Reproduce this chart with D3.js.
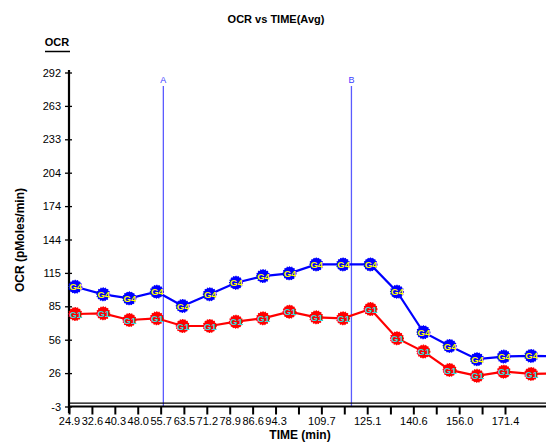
<!DOCTYPE html>
<html><head><meta charset="utf-8">
<script src="https://cdn.jsdelivr.net/npm/d3@7"></script>
<style>
html,body{margin:0;padding:0;background:#fff;}
svg{display:block;font-family:Arial,"Liberation Sans",sans-serif;}
</style></head>
<body>
<svg id="chart" width="546" height="442"></svg>
<script>
// ---- data ----
const times = [27.0, 36.4, 45.2, 54.4, 63.1, 72.2, 81.0, 90.1, 99.0, 108.0, 117.0, 126.2, 135.1, 144.0, 152.8, 162.0, 171.0, 180.2, 189.2];
const seriesG4 = [102.8, 96.1, 92.5, 98.4, 85.8, 96.1, 106.3, 112.2, 114.6, 122.5, 122.5, 122.5, 98.4, 62.6, 50.5, 38.8, 41.1, 41.7, 41.3];
const seriesG1 = [78.7, 79.3, 73.4, 74.9, 68.1, 68.1, 71.9, 74.9, 80.7, 75.8, 74.9, 83.1, 57.3, 45.5, 29.3, 24.1, 27.8, 25.8, 26.2];
const seriesNames = ["G4", "G1"];
const injections = [{label: "A", time: 56.6}, {label: "B", time: 119.8}];
const xTickValues = [24.9, 32.6, 40.3, 48.0, 55.7, 63.5, 71.2, 78.9, 86.6, 94.3, 102.0, 109.7, 117.4, 125.1, 132.9, 140.6, 148.3, 156.0, 163.7, 171.4];
const xTickLabels = ["24.9","32.6","40.3","48.0","55.7","63.5","71.2","78.9","86.6","94.3","","109.7","","125.1","","140.6","","156.0","","171.4"];
const yTickValues = [-3, 26.5, 56, 85.5, 115, 144.5, 174, 203.5, 233, 262.5, 292];
const yTickLabels = ["-3","26","56","85","115","144","174","204","233","263","292"];

// ---- layout ----
const svg = d3.select("#chart");
const W = 546, H = 442;
const x = d3.scaleLinear().domain([24.9, 171.4]).range([69, 505]);
const y = d3.scaleLinear().domain([-3, 292]).range([406.5, 72.5]);

const styles = {
  G4: {line: "#0000ff", fill: "#0000ff", text: "#ffff00"},
  G1: {line: "#ff0000", fill: "#ff0000", text: "#33dddd"}
};

// title
svg.append("text").attr("x", 276).attr("y", 23).attr("text-anchor", "middle")
  .attr("font-size", 11).attr("font-weight", "bold").text("OCR vs TIME(Avg)");
// top-left label
svg.append("text").attr("x", 57).attr("y", 46).attr("text-anchor", "middle")
  .attr("font-size", 11).attr("font-weight", "bold").text("OCR");
svg.append("line").attr("x1", 45).attr("x2", 70).attr("y1", 51.5).attr("y2", 51.5)
  .attr("stroke", "#000").attr("stroke-width", 1.5);

// y axis label
svg.append("text").attr("transform", "translate(24,240) rotate(-90)")
  .attr("text-anchor", "middle").attr("font-size", 12).attr("font-weight", "bold")
  .text("OCR (pMoles/min)");
// x axis label
svg.append("text").attr("x", 300).attr("y", 438.5).attr("text-anchor", "middle")
  .attr("font-size", 12).attr("font-weight", "bold").text("TIME (min)");

// injection lines
const inj = svg.append("g");
injections.forEach(d => {
  inj.append("line").attr("x1", x(d.time)).attr("x2", x(d.time))
    .attr("y1", 86).attr("y2", y(-3)).attr("stroke", "#5a5aff").attr("stroke-width", 1.3);
  inj.append("text").attr("x", x(d.time)).attr("y", 83).attr("text-anchor", "middle")
    .attr("font-size", 9).attr("fill", "#3a3aff").text(d.label);
});

// y axis
const yAxis = d3.axisLeft(y).tickValues(yTickValues).tickSizeOuter(0).tickSizeInner(4)
  .tickPadding(4).tickFormat((d, i) => yTickLabels[i]);
const gy = svg.append("g").attr("transform", "translate(69,0)").call(yAxis);
gy.select(".domain").remove();
gy.selectAll(".tick line").attr("x1", -4).attr("x2", 3).attr("stroke-width", 1.3);
gy.selectAll(".tick text").attr("font-size", 11).attr("font-family", "Arial, 'Liberation Sans', sans-serif").attr("fill", "#000");
svg.append("line").attr("x1", 69).attr("x2", 69).attr("y1", 70).attr("y2", 413)
  .attr("stroke", "#000").attr("stroke-width", 2.2);

// x axis
const xAxis = d3.axisBottom(x).tickValues(xTickValues).tickSizeOuter(0).tickSizeInner(8)
  .tickPadding(3).tickFormat((d, i) => xTickLabels[i]);
const gx = svg.append("g").attr("transform", `translate(0,${y(-3)})`).call(xAxis);
gx.select(".domain").remove();
gx.selectAll(".tick line").attr("stroke-width", 2);
gx.selectAll(".tick text").attr("font-size", 11).attr("font-family", "Arial, 'Liberation Sans', sans-serif").attr("fill", "#000");
svg.append("line").attr("x1", 68).attr("x2", W).attr("y1", y(-3)).attr("y2", y(-3))
  .attr("stroke", "#000").attr("stroke-width", 2.2);
svg.append("line").attr("x1", 69).attr("x2", W).attr("y1", y(0)).attr("y2", y(0))
  .attr("stroke", "#000").attr("stroke-width", 1.3);

// series
const allSeries = [{name: "G4", values: seriesG4}, {name: "G1", values: seriesG1}];
const line = d3.line().x(d => x(d.t)).y(d => y(d.v));
allSeries.forEach(s => {
  const pts = times.map((t, i) => ({t, v: s.values[i]}));
  const st = styles[s.name];
  svg.append("path").datum(pts).attr("d", line).attr("fill", "none")
    .attr("stroke", st.line).attr("stroke-width", 2.2);
  // markers only for points that lie inside the visible frame
  const visible = pts.filter(d => x(d.t) + 7 <= W);
  const mk = svg.append("g").selectAll("g").data(visible).join("g")
    .attr("transform", d => `translate(${x(d.t)},${y(d.v)})`);
  mk.append("circle").attr("r", 6.4).attr("fill", st.fill)
    .attr("stroke", st.fill).attr("stroke-width", 1.2).attr("stroke-dasharray", "1.2,1.2");
  mk.append("circle").attr("r", 6).attr("fill", st.fill);
  mk.append("text").attr("x", 0.5).attr("y", 3.6).attr("text-anchor", "middle")
    .attr("font-size", 9.5).attr("font-weight", "bold").attr("fill", st.text).text(s.name);
});
</script>
</body></html>
